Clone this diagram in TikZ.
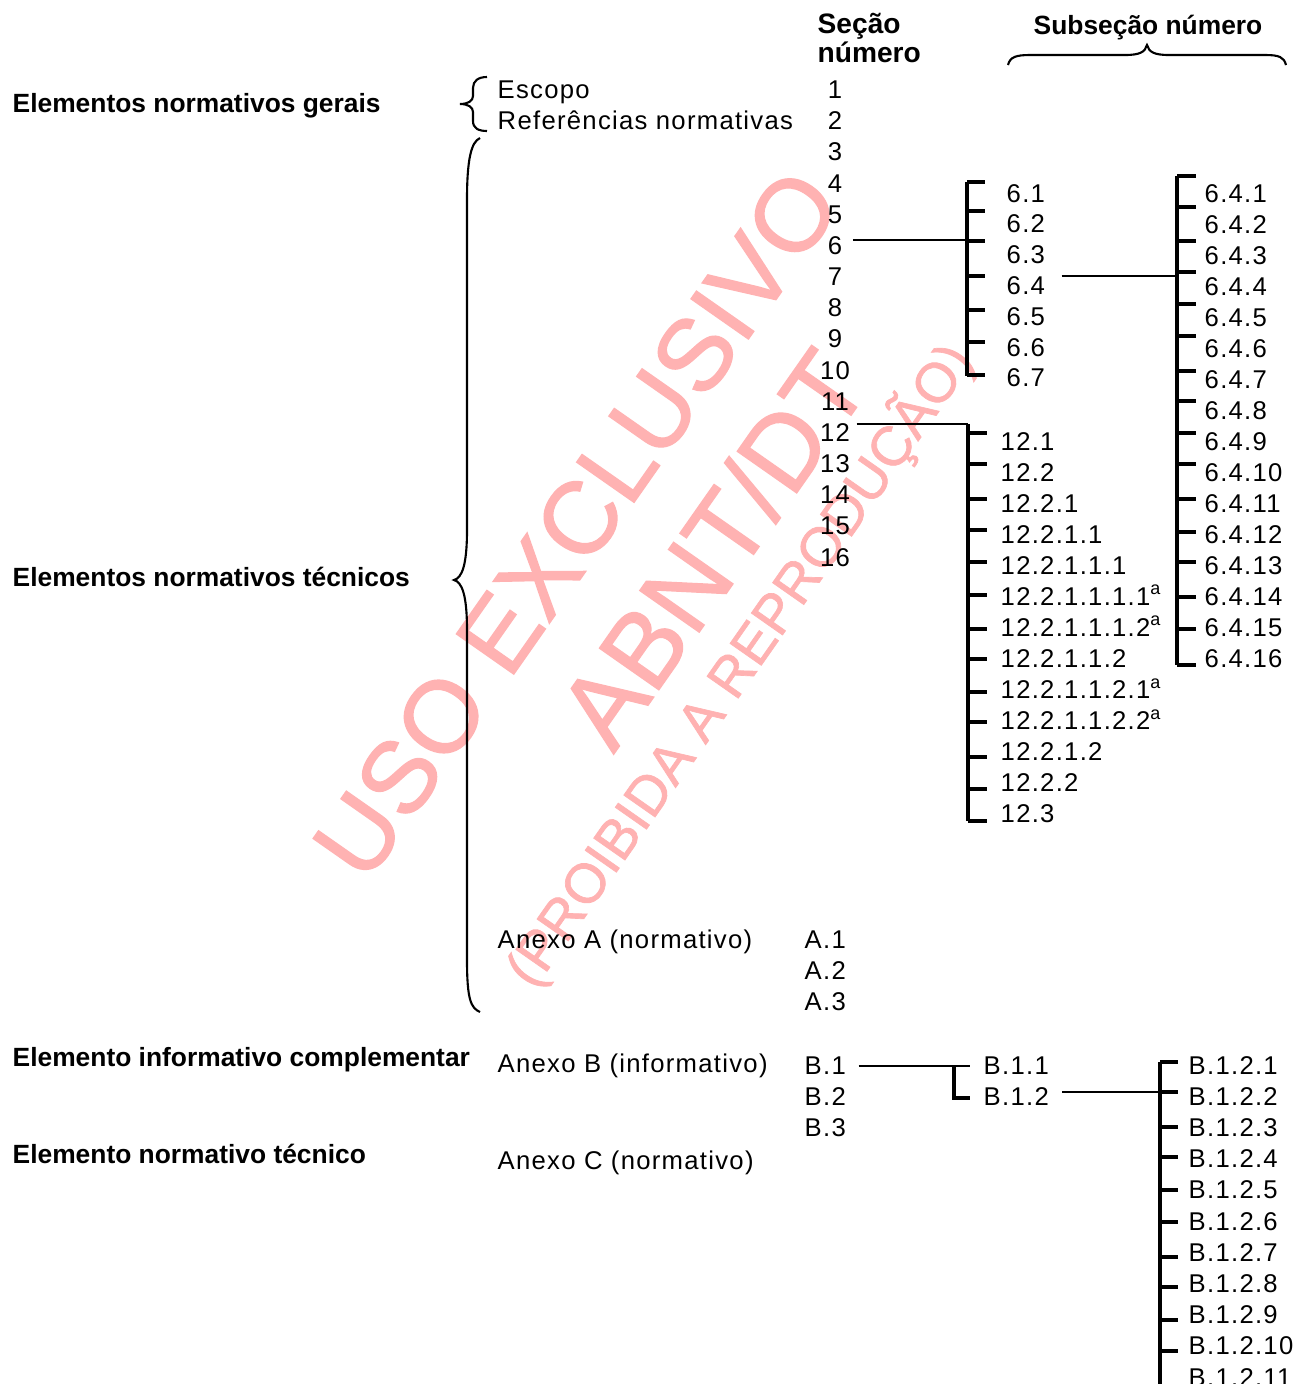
\documentclass[tikz,border=0pt]{standalone}
\usepackage{fontspec}
\setmainfont{Liberation Sans}
\newfontfamily\regfam{Liberation Sans}[LetterSpace=5]
\newfontfamily\wmfam{Liberation Sans}[FakeBold=1.2]
\newcommand\regfont{\regfam\fontsize{7.3}{8}\selectfont}
\newcommand\lblfont{\bfseries\fontsize{7.5}{9}\selectfont}
\newcommand\hdrfont{\bfseries\fontsize{8}{9}\selectfont}
\newcommand\wmsize[1]{\wmfam\fontsize{#1}{#1}\selectfont}
\definecolor{wmcol}{RGB}{255,178,178}
\begin{document}
\begin{tikzpicture}[x=0.01cm,y=-0.01cm,
  lbl/.style={font=\lblfont, anchor=base west, inner sep=0pt},
  txt/.style={font=\regfont, anchor=base west, inner sep=0pt},
  num/.style={font=\regfont, anchor=base, inner sep=0pt},
  hdr/.style={font=\hdrfont, anchor=base west, inner sep=0pt},
  conn/.style={line width=0.6pt},
  brk/.style={line width=0.95pt},
  tick/.style={line width=0.9pt},
  brace/.style={line width=0.6pt},
  wm/.style={text=wmcol, inner sep=0pt, rotate=55, text depth=0pt}]
\useasboundingbox (0,0) rectangle (1296,1384);
\clip (0,0) rectangle (1296,1384);
\fill[white] (0,0) rectangle (1296,1384);

% watermark
\node[wm, font=\wmsize{29}, text height=20.8pt] (wmA) at (575,523) {USO EXCLUSIVO};
\node[wm, font=\wmsize{30}, text height=21.5pt] (wmB) at (712,548) {ABNT/DT};
\node[wm, font=\wmsize{15.8}, text height=11.3pt] (wmC) at (738,664) {(PROIBIDA A REPRODUÇÃO)};

% headers
\node[hdr] (hsec1) at (817,33) {Seção};
\node[hdr] (hsec2) at (817,62) {número};
\node[font=\bfseries\fontsize{7.5}{9}\selectfont, anchor=base, inner sep=0pt] (hsub) at (1148,34) {Subseção número};
\draw[brace] (1008,65) .. controls (1010,57) and (1016,55) .. (1030,55) -- (1125,55)
  .. controls (1140,55) and (1145,52) .. (1147,45)
  .. controls (1149,52) and (1154,55) .. (1169,55) -- (1265,55)
  .. controls (1279,55) and (1284,57) .. (1286,65);

% left labels
\node[lbl] (gerais) at (12,112.5) {Elementos normativos gerais};
\node[lbl] (tecnicos) at (12,586.5) {Elementos normativos técnicos};
\node[lbl] (infcomp) at (12,1066.5) {Elemento informativo complementar};
\node[lbl] (normtec) at (12,1163.5) {Elemento normativo técnico};

% braces
\draw[brace] (487,77) .. controls (478,77) and (473,81) .. (473,88) -- (473,96)
  .. controls (473,101) and (468,104) .. (460,104)
  .. controls (468,104) and (473,107) .. (473,112) -- (473,121)
  .. controls (473,128) and (478,131) .. (487,131);
\draw[brace] (480,138) .. controls (471,142) and (467,160) .. (467,200) -- (467,530)
  .. controls (467,565) and (462,578) .. (454,580)
  .. controls (462,582) and (467,595) .. (467,630) -- (467,960)
  .. controls (467,1000) and (471,1008) .. (480,1012);

% middle texts
\node[txt] (escopo) at (497,98.5) {Escopo};
\node[txt] (refs) at (497,129.7) {Referências normativas};
\node[txt] (anexoA) at (497,948) {Anexo A (normativo)};
\node[txt] (anexoB) at (497,1072) {Anexo B (informativo)};
\node[txt] (anexoC) at (497,1169) {Anexo C (normativo)};

% section numbers
\foreach \n in {1,...,16}
  \node[num] (s\n) at (835,{89.5+(\n-1)*31.17+9}) {\n};

% annex A / B
\foreach \k in {1,2,3}
  \node[txt] (A\k) at (804,{939+(\k-1)*31.3+9}) {A.\k};
\foreach \k in {1,2,3}
  \node[txt] (B\k) at (804,{1065+(\k-1)*31.2+9}) {B.\k};

% 6.x
\foreach \k in {1,...,7}
  \node[txt] (six-\k) at (1006,{193+(\k-1)*30.8+9}) {6.\k};
\coordinate (br6) at (967,240);
\draw[conn] ([xshift=1mm]s6.east |- br6) -- (br6);
\draw[brk] (967,182) -- (967,376);
\foreach \y in {182,211,241,276,310,342,375}
  \draw[tick] (967,\y) -- (985,\y);

% 6.4.x
\foreach \k in {1,...,16}
  \node[txt] (sixfour-\k) at (1204,{193+(\k-1)*31+9}) {6.4.\k};
\coordinate (br64) at (1177,276);
\draw[conn] ([xshift=1.6mm]six-4.east |- br64) -- (br64);
\draw[brk] (1177,176) -- (1177,665);
\foreach \y in {176,207,241,272,304,336,371,401,433,464,499,532,562,597,629,665}
  \draw[tick] (1177,\y) -- (1196,\y);

% 12.x
\foreach \lab [count=\k] in {12.1,12.2,12.2.1,12.2.1.1,12.2.1.1.1,
    {12.2.1.1.1.1\textsuperscript{a}},{12.2.1.1.1.2\textsuperscript{a}},
    12.2.1.1.2,{12.2.1.1.2.1\textsuperscript{a}},{12.2.1.1.2.2\textsuperscript{a}},
    12.2.1.2,12.2.2,12.3}
  \node[txt] (twelve-\k) at (1000,{441+(\k-1)*31.08+9}) {\lab};
\coordinate (br12) at (968,424);
\draw[conn] ([xshift=0.6mm]s12.east |- br12) -- (br12);
\draw[brk] (968,424) -- (968,821);
\foreach \y in {433,464,499,530,562,595,629,659,692,722,757,789,821}
  \draw[tick] (968,\y) -- (987,\y);

% B.1.x
\node[txt] (b11) at (983,1074) {B.1.1};
\node[txt] (b12) at (983,1105.5) {B.1.2};
\coordinate (brB1) at (970,1066);
\draw[conn] ([xshift=1.2mm]B1.east |- brB1) -- (brB1);
\draw[brk] (954,1066) -- (954,1098) -- (970,1098);

% B.1.2.x
\foreach \k in {1,...,11}
  \node[txt] (btwo-\k) at (1188,{1065+(\k-1)*31.2+9}) {B.1.2.\k};
\coordinate (brB12) at (1177,1092);
\draw[conn] ([xshift=1.3mm]b12.east |- brB12) -- (brB12);
\draw[brk] (1160,1062) -- (1160,1390);
\foreach \y in {1062,1092,1127,1157,1190,1222,1257,1287,1320,1351}
  \draw[tick] (1160,\y) -- (1178,\y);
\end{tikzpicture}
\end{document}
